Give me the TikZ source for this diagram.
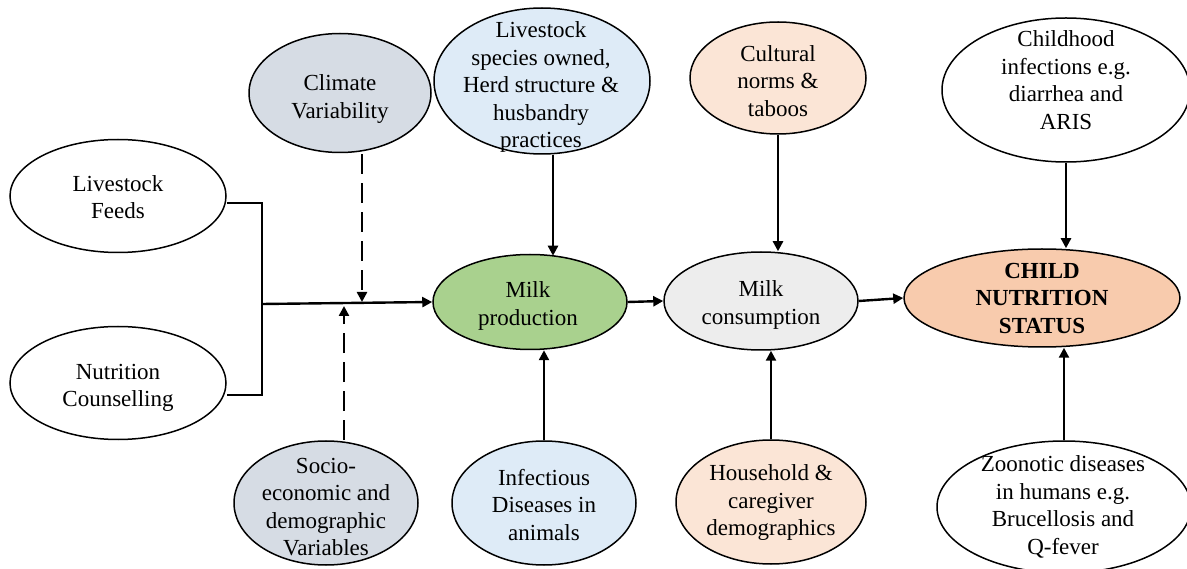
\documentclass[tikz,border=0pt]{standalone}
\usepackage{fontspec}
\setmainfont{Liberation Serif}
\usetikzlibrary{shapes.geometric,arrows.meta,calc}
\definecolor{cGB}{HTML}{D6DCE4}
\definecolor{cLB}{HTML}{DEEBF7}
\definecolor{cG}{HTML}{A9D18E}
\definecolor{cP}{HTML}{FBE5D6}
\definecolor{cGr}{HTML}{EDEDED}
\definecolor{cPS}{HTML}{F8CBAD}
\begin{document}
\begin{tikzpicture}[x=1pt,y=-1pt,
  el/.style={ellipse,draw,line width=1.5pt,inner sep=0pt},
  txt/.style={inner sep=0pt,align=center,font=\fontsize{23}{27.5}\selectfont},
  arr/.style={line width=2.4pt,-{Triangle[length=10pt,width=10pt]}},
  ln/.style={line width=2.4pt},
  dsh/.style={line width=2.4pt,dash pattern=on 20pt off 9pt,-{Triangle[length=10pt,width=10pt]}}]
\useasboundingbox (0,0) rectangle (1187,569);
% ellipses
\node[el,minimum width=216pt,minimum height=113pt] (feeds) at (118,196) {};
\node[el,minimum width=216pt,minimum height=113pt] (counsel) at (118,383) {};
\node[el,fill=cGB,minimum width=182pt,minimum height=119pt] (climate) at (340,93) {};
\node[el,fill=cGB,minimum width=184pt,minimum height=124pt] (socio) at (326,503) {};
\node[el,fill=cLB,minimum width=216pt,minimum height=146pt] (species) at (542,81) {};
\node[el,fill=cG,minimum width=194pt,minimum height=95pt] (prod) at (530,302) {};
\node[el,fill=cLB,minimum width=184pt,minimum height=124pt] (infect) at (544,503) {};
\node[el,fill=cP,minimum width=176pt,minimum height=112pt] (cult) at (778,78) {};
\node[el,fill=cGr,minimum width=194pt,minimum height=98pt] (cons) at (761,301) {};
\node[el,fill=cP,minimum width=190pt,minimum height=124pt] (house) at (771,502) {};
\node[el,minimum width=248pt,minimum height=144pt] (child) at (1066,90) {};
\node[el,fill=cPS,minimum width=276pt,minimum height=98pt] (status) at (1042,298) {};
\node[el,minimum width=254pt,minimum height=132pt] (zoo) at (1064,507) {};
% texts
\node[txt] (tfeeds) at (118,197) {Livestock\\Feeds};
\node[txt] (tcounsel) at (118,388) {Nutrition\\Counselling};
\node[txt] (tclimate) at (340,99) {Climate\\Variability};
\node[txt] (tsocio) at (326,507) {Socio-\\economic and\\demographic\\Variables};
\node[txt] (tspecies) at (541,87) {Livestock\\species owned,\\Herd structure \&\\husbandry\\practices};
\node[txt] (tprod) at (528,306) {Milk\\production};
\node[txt] (tinfect) at (544,505) {Infectious\\Diseases in\\animals};
\node[txt] (tcult) at (778,81) {Cultural\\norms \&\\taboos};
\node[txt] (tcons) at (761,305) {Milk\\consumption};
\node[txt] (thouse) at (771,503) {Household \&\\caregiver\\demographics};
\node[txt] (tchild) at (1066,80) {Childhood\\infections e.g.\\diarrhea and\\ARIS};
\node[txt,font=\fontsize{23}{27.5}\selectfont\bfseries] (tstatus) at (1042,298) {CHILD\\NUTRITION\\STATUS};
\node[txt] (tzoo) at (1063,507) {Zoonotic diseases\\in humans e.g.\\Brucellosis and\\Q-fever};
% connectors
\coordinate (bx) at (262,304);
\draw[ln] ([yshift=-7pt]feeds.east) -- ([yshift=-7pt]feeds.east -| bx) -- ([yshift=-12pt]counsel.east -| bx) -- ([yshift=-12pt]counsel.east);
\draw[arr] (bx) -- (prod.west);
\draw[dsh,shorten >=2pt] ([xshift=22pt,yshift=-1pt]climate.south) -- ([xshift=22pt]climate.south |- bx);
\draw[dsh,shorten >=2pt] ([xshift=18pt]socio.north) -- ([xshift=18pt]socio.north |- bx);
\draw[arr] ([xshift=11pt]species.south) -- ([xshift=11pt,yshift=-2pt]species.south |- prod.north);
\draw[arr] (infect.north) -- (infect.north |- prod.south);
\draw[arr] (prod.east) -- (cons.west);
\draw[arr] (cult.south) -- (cult.south |- cons.north);
\draw[arr] (house.north) -- (house.north |- cons.south);
\draw[arr] (cons.east) -- (status.west);
\draw[arr] (child.south) -- (child.south |- status.north);
\draw[arr] (zoo.north) -- (zoo.north |- status.south);
\end{tikzpicture}
\end{document}
